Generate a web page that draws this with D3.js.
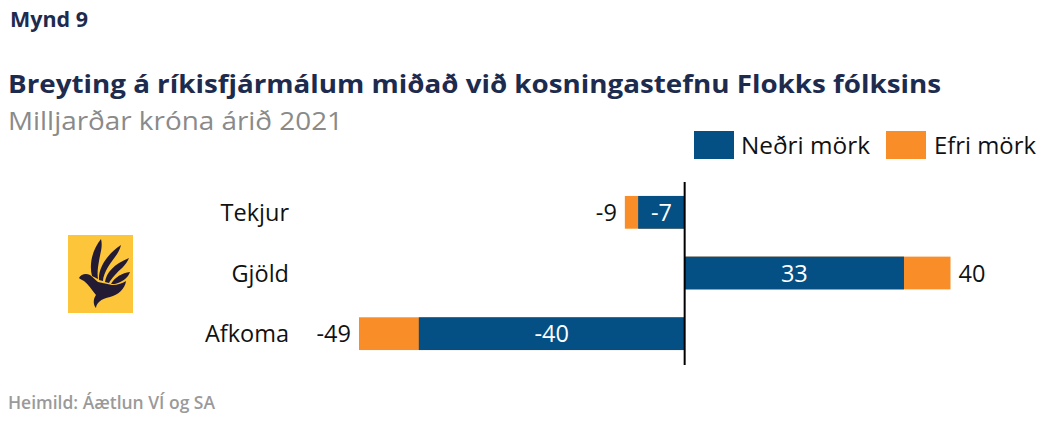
<!DOCTYPE html>
<html><head><meta charset="utf-8">
<script src="https://cdn.jsdelivr.net/npm/d3@7"></script>
<style>body{margin:0;background:#fff}svg{display:block}text{font-family:"Open Sans","Noto Sans",sans-serif}</style>
</head><body><svg id="c" width="1057" height="422"></svg>
<script>
const categories = ["Tekjur", "Gjöld", "Afkoma"];
const lowerValues = [-7, 33, -40];   // Neðri mörk
const upperValues = [-9, 40, -49];   // Efri mörk
const seriesNames = ["Neðri mörk", "Efri mörk"];
const colors = ["#044f84", "#f98e29"];

const svg = d3.select("#c");
const x = d3.scaleLinear().domain([-49, 40]).range([359, 950.5]);
const y = d3.scaleBand().domain(categories).range([182, 364]).paddingInner(0.46).paddingOuter(0.23);

svg.append("text").attr("x", 10).attr("y", 27).attr("font-size", 21).attr("font-weight", 700).attr("fill", "#1d2b4f").attr("textLength", 78).attr("lengthAdjust", "spacingAndGlyphs").text("Mynd 9");
svg.append("text").attr("x", 8).attr("y", 93).attr("font-size", 25).attr("font-weight", 700).attr("fill", "#1d2b4f").attr("textLength", 933).attr("lengthAdjust", "spacingAndGlyphs").text("Breyting á ríkisfjármálum miðað við kosningastefnu Flokks fólksins");
svg.append("text").attr("x", 8).attr("y", 130).attr("font-size", 25).attr("fill", "#8a8a8a").attr("textLength", 335).attr("lengthAdjust", "spacingAndGlyphs").text("Milljarðar króna árið 2021");

// legend
const lg = [{x: 694, tx: 741, w: 129}, {x: 886, tx: 934, w: 102}];
seriesNames.forEach((n, i) => {
  svg.append("rect").attr("x", lg[i].x).attr("y", 131).attr("width", 40).attr("height", 28).attr("fill", colors[i]);
  svg.append("text").attr("x", lg[i].tx).attr("y", 154).attr("font-size", 23.5).attr("fill", "#111")
    .attr("textLength", lg[i].w).attr("lengthAdjust", "spacingAndGlyphs").text(n);
});

const g = svg.append("g");
g.selectAll("rect.u").data(categories).join("rect")
  .attr("x", (d, i) => Math.min(x(0), x(upperValues[i])))
  .attr("width", (d, i) => Math.abs(x(upperValues[i]) - x(0)))
  .attr("y", d => y(d)).attr("height", y.bandwidth()).attr("fill", colors[1]);
g.selectAll("rect.l").data(categories).join("rect")
  .attr("x", (d, i) => Math.min(x(0), x(lowerValues[i])))
  .attr("width", (d, i) => Math.abs(x(lowerValues[i]) - x(0)))
  .attr("y", d => y(d)).attr("height", y.bandwidth()).attr("fill", colors[0]);

g.append("line").attr("x1", x(0)).attr("x2", x(0)).attr("y1", 182).attr("y2", 365).attr("stroke", "#000").attr("stroke-width", 2);

g.selectAll("text.cat").data(categories).join("text")
  .attr("x", 289).attr("y", d => y(d) + y.bandwidth() / 2 + 8.5)
  .attr("text-anchor", "end").attr("font-size", 23.5).attr("fill", "#111").text(d => d);

g.selectAll("text.lv").data(categories).join("text")
  .attr("x", (d, i) => (x(0) + x(lowerValues[i])) / 2)
  .attr("y", d => y(d) + y.bandwidth() / 2 + 8.5)
  .attr("text-anchor", "middle").attr("font-size", 23.5).attr("fill", "#fff").text((d, i) => lowerValues[i]);

g.selectAll("text.uv").data(categories).join("text")
  .attr("x", (d, i) => upperValues[i] < 0 ? x(upperValues[i]) - 8 : x(upperValues[i]) + 8)
  .attr("y", d => y(d) + y.bandwidth() / 2 + 8.5)
  .attr("text-anchor", (d, i) => upperValues[i] < 0 ? "end" : "start")
  .attr("font-size", 23.5).attr("fill", "#111").text((d, i) => upperValues[i]);

// logo
const logo = svg.append("g").attr("transform", "translate(68,235)");
logo.append("rect").attr("width", 65).attr("height", 78).attr("fill", "#fdc53a");
const ink = "#231a33";
// body of dove (head left, tail down)
logo.append("path").attr("fill", ink).attr("d",
  "M11,43 C13,39 18,38 22,40 C25,42 27,45 30,47 L44,50 C50,50 55,48 58,46 C57,54 50,60 42,62 C38,63 34,64 31,67 C29,69 28,71 28,73 C25,70 25,64 28,60 C24,55 20,49 16,46 C14,45 12,44 11,43 Z");
// feathers (fingers)
logo.append("path").attr("fill", ink).attr("d", "M24,41 C21,30 24,15 33,4 C35,12 32,19 31,26 C30,32 29,38 30,44 Z");
logo.append("path").attr("fill", ink).attr("d", "M31,45 C30,34 38,20 53,10 C51,19 44,25 40,32 C37,37 35,42 35,46 Z");
logo.append("path").attr("fill", ink).attr("d", "M37,47 C38,38 46,29 61,23 C58,31 51,35 47,40 C44,43 42,46 41,48 Z");
logo.append("path").attr("fill", ink).attr("d", "M43,49 C47,42 54,38 62,37 C60,43 55,46 50,48 C48,49 46,49 43,49 Z");

svg.append("text").attr("x", 8).attr("y", 409).attr("font-size", 17.5).attr("font-weight", 600).attr("fill", "#9a9a9a").attr("textLength", 207).attr("lengthAdjust", "spacingAndGlyphs").text("Heimild: Áætlun VÍ og SA");
</script></body></html>
